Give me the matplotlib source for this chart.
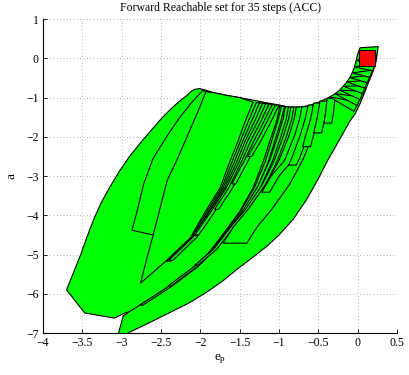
import matplotlib
matplotlib.use('Agg')
import matplotlib.pyplot as plt
from matplotlib.patches import Polygon, Rectangle

plt.rcParams['font.family'] = ['Liberation Serif', 'DejaVu Serif']
plt.rcParams['mathtext.fontset'] = 'custom'
plt.rcParams['mathtext.rm'] = 'Liberation Serif'

title = 'Forward Reachable set for 35 steps (ACC)'
x_ticks = [-4, -3.5, -3, -2.5, -2, -1.5, -1, -0.5, 0, 0.5]
y_ticks = [-7, -6, -5, -4, -3, -2, -1, 0, 1]
x_tick_labels = ['\u22124', '\u22123.5', '\u22123', '\u22122.5', '\u22122', '\u22121.5', '\u22121', '\u22120.5', '0', '0.5']
y_tick_labels = ['\u22127', '\u22126', '\u22125', '\u22124', '\u22123', '\u22122', '\u22121', '0', '1']

# initial set (red square)
init_x = [0.01, 0.22]
init_y = [-0.20, 0.21]

# outer right boundary of the band (top -> bottom)
right_boundary = [(0.26, 0.30), (0.245, 0.1), (0.23, -0.1), (0.20, -0.3), (0.15, -0.55),
                  (0.09, -0.85), (0.03, -1.15), (-0.03, -1.4), (-0.10, -1.6), (-0.24, -2.1),
                  (-0.38, -2.59), (-0.51, -3.1), (-0.65, -3.6), (-0.82, -4.1), (-1.0, -4.5),
                  (-1.15, -4.78), (-1.30, -5.02), (-1.53, -5.37), (-1.72, -5.68), (-1.92, -5.96),
                  (-2.15, -6.24), (-2.39, -6.48), (-2.65, -6.74), (-2.92, -7.0), (-3.0, -7.3)]
# top boundary (left -> right)
top_boundary = [(-2.11, -0.83), (-2.07, -0.79), (-2.01, -0.77), (-1.95, -0.80), (-1.84, -0.87),
                (-1.65, -0.95), (-1.5, -1.0), (-1.24, -1.10), (-1.0, -1.19), (-0.86, -1.24),
                (-0.72, -1.24), (-0.60, -1.19), (-0.50, -1.12), (-0.40, -1.03), (-0.31, -0.93),
                (-0.23, -0.81), (-0.15, -0.63), (-0.09, -0.45), (-0.05, -0.27), (-0.02, -0.05),
                (0.0, 0.12), (0.03, 0.27), (0.26, 0.30)]

# big left set
set_a_left = [(-2.11, -0.83), (-2.18, -0.96), (-2.27, -1.1), (-2.37, -1.28), (-2.48, -1.5),
              (-2.61, -1.8), (-2.76, -2.15), (-2.9, -2.5), (-3.03, -2.88), (-3.15, -3.28),
              (-3.26, -3.68), (-3.35, -4.08), (-3.44, -4.55), (-3.52, -5.0), (-3.61, -5.45),
              (-3.7, -5.9), (-3.47, -6.49), (-3.09, -6.62), (-2.96, -6.49)]
set_a_right = [(-2.5, -6.25), (-1.6, -4.6), (-0.9, -2.5), (-0.75, -1.3)]

# lower long set, left edge (bottom -> top)
set_b_left = [(-3.08, -7.3), (-2.98, -6.56), (-2.77, -6.29), (-2.41, -5.84), (-2.07, -5.33),
              (-1.88, -4.93), (-1.68, -4.4), (-1.50, -3.9), (-1.33, -3.3), (-1.20, -2.62),
              (-1.10, -2.0), (-1.03, -1.6), (-0.99, -1.21)]

# inner sets of left region
set_c = [(-1.97, -0.82), (-2.1, -1.1), (-2.26, -1.5), (-2.43, -2.0), (-2.6, -2.55),
         (-2.72, -3.2), (-2.81, -3.94), (-2.87, -4.38), (-2.6, -4.5), (-2.3, -3.0),
         (-1.9, -1.5), (-1.85, -0.88)]
set_d_left = [(-1.93, -0.85), (-2.04, -1.4), (-2.17, -2.0), (-2.30, -2.6), (-2.42, -3.1),
              (-2.54, -4.04), (-2.6, -4.5), (-2.68, -5.1), (-2.76, -5.73)]
set_d_right = [(-2.45, -5.19), (-2.13, -4.58), (-1.95, -3.95), (-1.75, -3.3), (-1.62, -2.6),
               (-1.52, -2.1), (-1.43, -1.6), (-1.33, -1.12)]

# family 1 strips: left edges (bottom -> top) and widths
fam1_edges = [
    [(-2.43, -5.17), (-2.11, -4.56), (-1.93, -3.95), (-1.73, -3.3), (-1.59, -2.6), (-1.49, -2.1), (-1.39, -1.6), (-1.29, -1.13)],
    [(-2.40, -5.15), (-2.09, -4.55), (-1.91, -3.95), (-1.71, -3.3), (-1.56, -2.6), (-1.46, -2.1), (-1.35, -1.6), (-1.25, -1.14)],
    [(-2.10, -4.52), (-1.89, -3.93), (-1.69, -3.3), (-1.53, -2.6), (-1.43, -2.1), (-1.31, -1.6), (-1.21, -1.15)],
    [(-2.07, -4.50), (-1.87, -3.92), (-1.67, -3.3), (-1.50, -2.6), (-1.40, -2.1), (-1.27, -1.6), (-1.17, -1.16)],
    [(-1.82, -3.85), (-1.64, -3.3), (-1.47, -2.6), (-1.36, -2.1), (-1.23, -1.6), (-1.13, -1.17)],
    [(-1.60, -3.20), (-1.44, -2.6), (-1.32, -2.1), (-1.19, -1.6), (-1.09, -1.18)],
    [(-1.40, -2.50), (-1.28, -2.1), (-1.15, -1.6), (-1.05, -1.19)],
]
fam1_width = [0.05, 0.05, 0.05, 0.05, 0.05, 0.05, 0.05]

# family 2 strips
fam2_edges = [
    [(-2.77, -6.29), (-2.41, -5.82), (-2.07, -5.31), (-1.87, -4.9), (-1.67, -4.38), (-1.49, -3.9), (-1.31, -3.28), (-1.17, -2.6), (-1.07, -1.95), (-1.01, -1.55), (-0.97, -1.22)],
    [(-2.41, -5.80), (-2.07, -5.29), (-1.85, -4.88), (-1.65, -4.36), (-1.46, -3.88), (-1.27, -3.26), (-1.12, -2.6), (-1.01, -1.95), (-0.95, -1.55), (-0.92, -1.23)],
    [(-2.07, -5.27), (-1.83, -4.86), (-1.63, -4.34), (-1.43, -3.86), (-1.22, -3.24), (-1.06, -2.6), (-0.94, -1.95), (-0.88, -1.55), (-0.85, -1.24)],
    [(-1.71, -4.71), (-1.58, -4.3), (-1.39, -3.84), (-1.17, -3.22), (-1.00, -2.6), (-0.87, -1.95), (-0.81, -1.55), (-0.78, -1.24)],
    [(-1.22, -3.41), (-1.10, -3.0), (-0.93, -2.6), (-0.80, -1.95), (-0.74, -1.55), (-0.71, -1.23)],
    [(-0.88, -2.72), (-0.84, -2.55), (-0.73, -1.95), (-0.67, -1.55), (-0.63, -1.19)],
    [(-0.70, -2.25), (-0.66, -1.95), (-0.60, -1.55), (-0.56, -1.14)],
    [(-0.56, -1.9), (-0.52, -1.55), (-0.48, -1.09)],
    [(-0.43, -1.65), (-0.41, -1.4), (-0.39, -1.02)],
]
fam2_width = [0.04, 0.04, 0.04, 0.30, 0.10, 0.10, 0.10, 0.10, 0.10]

# early steps near the initial set: tip, upper-right, lower-right
chev_tip = [(-0.36, -0.98), (-0.29, -0.9), (-0.23, -0.81), (-0.18, -0.71), (-0.14, -0.6),
            (-0.10, -0.49), (-0.07, -0.37), (-0.04, -0.22), (-0.02, -0.05)]
chev_up = [(0.01, -1.12), (0.04, -0.98), (0.07, -0.84), (0.10, -0.7), (0.13, -0.56),
           (0.16, -0.43), (0.19, -0.3), (0.22, -0.12), (0.24, 0.08)]
chev_low = [(-0.05, -1.35), (-0.01, -1.2), (0.03, -1.05), (0.06, -0.9), (0.09, -0.76),
            (0.12, -0.62), (0.15, -0.48), (0.19, -0.32), (0.22, -0.15)]

green = '#00FF00'
lw = 0.8

fig = plt.figure(figsize=(4.09, 3.75), dpi=100)
ax = fig.add_axes([0.105, 0.112, 0.866, 0.837])


def add_poly(pts, z=2):
    ax.add_patch(Polygon(pts, closed=True, facecolor=green, edgecolor='black',
                         linewidth=lw, zorder=z, joinstyle='round'))


# A
tb_left = [p for p in top_boundary if -2.08 <= p[0] <= -1.0][::-1]
add_poly(set_a_left + set_a_right + tb_left)
# B
tb_right = [p for p in top_boundary if p[0] > -0.99]
add_poly(set_b_left + tb_right + right_boundary)
# C, D
add_poly(set_c)
tb_d = [p for p in top_boundary if -1.90 <= p[0] <= -1.34][::-1]
add_poly(set_d_left + set_d_right + tb_d)
# family 1
for edge, w in zip(fam1_edges, fam1_width):
    add_poly(edge + [(x + w, y) for (x, y) in edge[::-1]])
# family 2
for edge, w in zip(fam2_edges, fam2_width):
    add_poly(edge + [(x + w, y) for (x, y) in edge[::-1]])
# early steps
for t, u, l in zip(chev_tip, chev_up, chev_low):
    add_poly([t, u, l])

ax.add_patch(Rectangle((init_x[0], init_y[0]), init_x[1] - init_x[0], init_y[1] - init_y[0],
                       facecolor='#FF0000', edgecolor='black', linewidth=lw, zorder=5))

ax.set_xlim(-4, 0.5)
ax.set_ylim(-7, 1)
ax.set_xticks(x_ticks)
ax.set_xticklabels(x_tick_labels)
ax.set_yticks(y_ticks)
ax.set_yticklabels(y_tick_labels)
ax.tick_params(direction='in', length=3, width=0.6, labelsize=8.5, pad=3)
ax.grid(True, linestyle=(0, (1, 3)), color='#999999', linewidth=0.6)
ax.set_axisbelow(True)
for s in ['top', 'right']:
    ax.spines[s].set_visible(False)
for s in ['left', 'bottom']:
    ax.spines[s].set_linewidth(0.8)
ax.set_title(title, fontsize=8.5, pad=6)
ax.set_xlabel(r'$\mathrm{e_p}$', fontsize=9.5, labelpad=2)
ax.set_ylabel('a', fontsize=9.5, labelpad=6)

fig.savefig('out.png', dpi=100)
